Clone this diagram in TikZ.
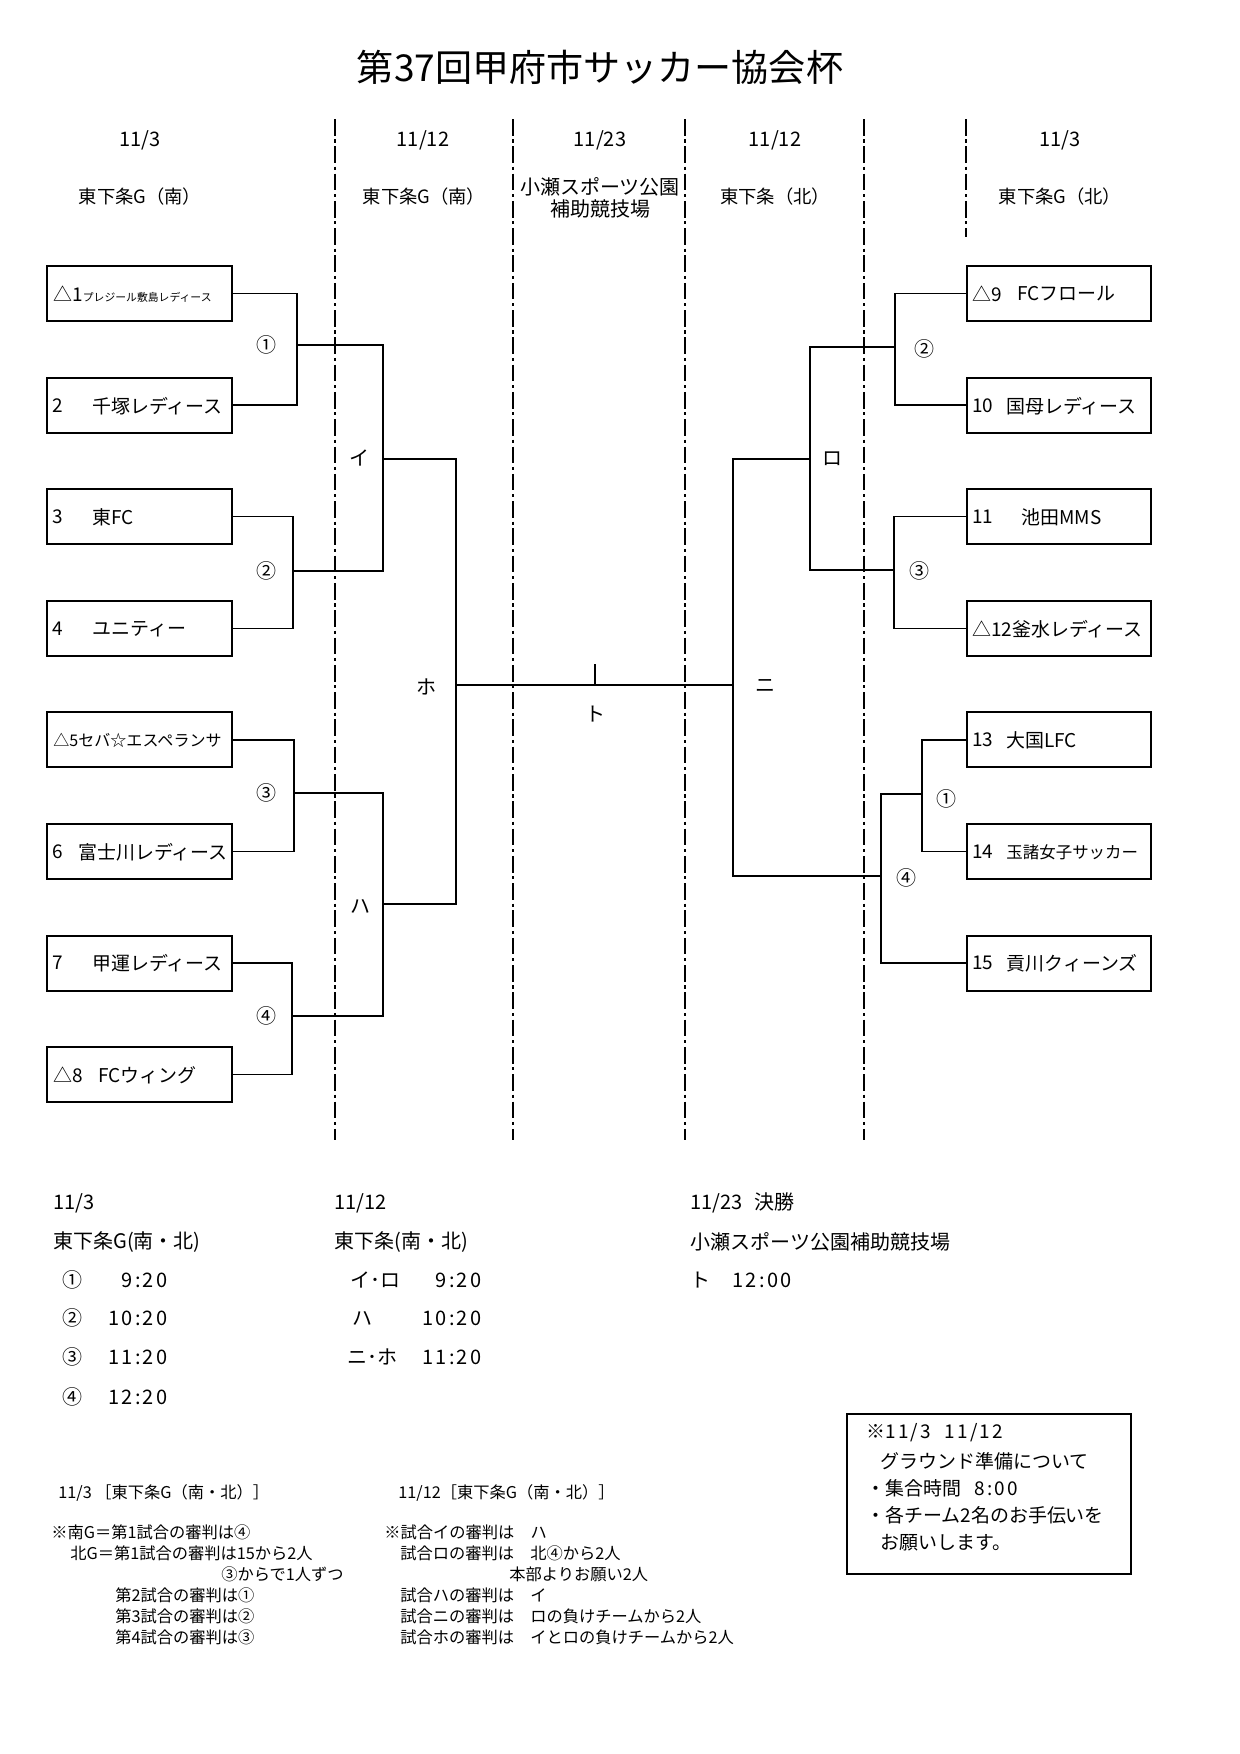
\documentclass[tikz,border=0pt]{standalone}
\usepackage{fontspec}
\setmainfont{Noto Sans CJK JP}
\newcommand\fsz[1]{\fontsize{#1}{#1}\selectfont}
\newcommand\wdig[1]{{\addfontfeature{LetterSpace=12}#1}}
\tikzset{
  teamL/.style={draw, line width=1pt, minimum width=88.8pt, minimum height=26.4pt, inner sep=0pt},
  teamR/.style={draw, line width=1pt, minimum width=88.3pt, minimum height=26.4pt, inner sep=0pt},
  conn/.style={line width=0.65pt},
  sepline/.style={line width=0.9pt, dash pattern=on 8pt off 1.8pt on 1.5pt off 1.8pt},
  tx/.style={inner sep=0pt, anchor=west, font=\fsz{9.1pt}},
  mk/.style={inner sep=0pt, font=\fsz{9.6pt}},
  hd/.style={inner sep=0pt, font=\fsz{9.6pt}},
  nt/.style={inner sep=0pt, anchor=west, font=\fsz{7.8pt}},
}
\begin{document}
\begin{tikzpicture}[x=0.48pt, y=-0.48pt]
\useasboundingbox (0,0) rectangle (1240,1754);
\fill[white] (0,0) rectangle (1240,1754);

% title
\node[inner sep=0pt, font=\fsz{17.8pt}] (title) at (600,67) {第37回甲府市サッカー協会杯};

% column separators
\foreach \xx in {335,513,685,864} \draw[sepline] (\xx,119) -- (\xx,1140);
\draw[sepline] (966,119) -- (966,237);

% headers
\node[hd] (d1) at (140,140) {11/3};
\node[hd] (d2) at (423,140) {11/12};
\node[hd] (d3) at (600,140) {11/23};
\node[hd] (d4) at (775,140) {11/12};
\node[hd] (d5) at (1060,140) {11/3};
\node[hd, font=\fsz{8.8pt}] (v1) at (140,197) {東下条G（南）};
\node[hd, font=\fsz{8.8pt}] (v2) at (424,197) {東下条G（南）};
\node[hd] (v3a) at (600,187) {小瀬スポーツ公園};
\node[hd] (v3b) at (600,209) {補助競技場};
\node[hd, font=\fsz{8.8pt}] (v4) at (775,197) {東下条（北）};
\node[hd, font=\fsz{8.8pt}] (v5) at (1060,197) {東下条G（北）};

% left team boxes
\node[teamL] (t1) at (139.5,293.5) {};
\node[teamL] (t2) at (139.5,405.1) {};
\node[teamL] (t3) at (139.5,516.7) {};
\node[teamL] (t4) at (139.5,628.3) {};
\node[teamL] (t5) at (139.5,739.9) {};
\node[teamL] (t6) at (139.5,851.5) {};
\node[teamL] (t7) at (139.5,963.1) {};
\node[teamL] (t8) at (139.5,1074.7) {};
% right team boxes
\node[teamR] (t9) at (1059,293.5) {};
\node[teamR] (t10) at (1059,405.1) {};
\node[teamR] (t11) at (1059,516.7) {};
\node[teamR] (t12) at (1059,628.3) {};
\node[teamR] (t13) at (1059,739.9) {};
\node[teamR] (t14) at (1059,851.5) {};
\node[teamR] (t15) at (1059,963.1) {};

% team texts
\node[tx] (n1) at (53,294) {△1{\fsz{5.2pt}プレジール敷島レディース}};
\node[tx] (a2) at (52,406) {2};  \node[tx] (b2) at (92,406) {千塚レディース};
\node[tx] (a3) at (52,517) {3};  \node[tx] (b3) at (92,517) {東FC};
\node[tx] (a4) at (52,629) {4};  \node[tx] (b4) at (92,629) {ユニティー};
\node[tx, font=\fsz{7.7pt}] (n5) at (53,740) {△5セバ☆エスペランサ};
\node[tx] (a6) at (52,852) {6};  \node[tx] (b6) at (78,852) {富士川レディース};
\node[tx] (a7) at (52,963) {7};  \node[tx] (b7) at (92,963) {甲運レディース};
\node[tx] (a8) at (53,1075) {△8}; \node[tx] (b8) at (98,1075) {FCウィング};
\node[tx] (a9) at (972,294) {△9}; \node[tx] (b9) at (1017,294) {FCフロール};
\node[tx] (a10) at (972,406) {10}; \node[tx] (b10) at (1006,406) {国母レディース};
\node[tx] (a11) at (972,517) {11}; \node[tx] (b11) at (1021,517) {池田MMS};
\node[tx] (n12) at (972,629) {△12釜水レディース};
\node[tx] (a13) at (972,740) {13}; \node[tx] (b13) at (1006,740) {大国LFC};
\node[tx] (a14) at (972,852) {14}; \node[tx, font=\fsz{7.9pt}] (b14) at (1006,852) {玉諸女子サッカー};
\node[tx] (a15) at (972,963) {15}; \node[tx] (b15) at (1006,963) {貢川クィーンズ};

% bracket joints
\coordinate (m1) at (297,345);
\coordinate (m2) at (293,571);
\coordinate (m3) at (294,793);
\coordinate (m4) at (292,1016);
\coordinate (mI) at (383,459);
\coordinate (mHa) at (383,904);
\coordinate (mHo) at (456,685);
\coordinate (mNi) at (733,685);
\coordinate (q1) at (895,347);
\coordinate (q2) at (894,570);
\coordinate (q3) at (922,794);
\coordinate (mRo) at (810,459);
\coordinate (mR4) at (881,876);
\coordinate (tk) at (595,664);
\coordinate (tb) at (595,685);

% left brackets
\draw[conn] (t1.east) -| (m1) |- (t2.east);
\draw[conn] (t3.east) -| (m2) |- (t4.east);
\draw[conn] (t5.east) -| (m3) |- (t6.east);
\draw[conn] (t7.east) -| (m4) |- (t8.east);
\draw[conn] (m1) -| (mI) |- (m2);
\draw[conn] (m3) -| (mHa) |- (m4);
\draw[conn] (mI) -| (mHo) |- (mHa);
\draw[conn] (mHo) -- (mNi);
\draw[conn] (tb) -- (tk);
% right brackets
\draw[conn] (t9.west) -| (q1) |- (t10.west);
\draw[conn] (t11.west) -| (q2) |- (t12.west);
\draw[conn] (t13.west) -| (q3) |- (t14.west);
\draw[conn] (q3) -| (mR4) |- (t15.west);
\draw[conn] (q1) -| (mRo) |- (q2);
\draw[conn] (mRo) -| (mNi) |- (mR4);

% match labels
\node[mk] (c1) at (266,345) {①};
\node[mk] (c2) at (266,571) {②};
\node[mk] (c3) at (266,793) {③};
\node[mk] (c4) at (266,1016) {④};
\node[mk] (kI) at (359,458) {イ};
\node[mk] (kHa) at (360,906) {ハ};
\node[mk] (kHo) at (426,687) {ホ};
\node[mk] (kTo) at (595,714) {ト};
\node[mk] (kNi) at (765,686) {ニ};
\node[mk] (kRo) at (832,459) {ロ};
\node[mk] (c2r) at (924,349) {②};
\node[mk] (c3r) at (919,571) {③};
\node[mk] (c1r) at (946,799) {①};
\node[mk] (c4r) at (906,878) {④};

% schedule
\begin{scope}[every node/.style={inner sep=0pt, anchor=west, font=\fsz{9.6pt}}]
\node (s11) at (53,1203) {11/3};
\node (s12) at (53,1242) {東下条G(南・北)};
\node (s13) at (62,1280) {①};  \node[anchor=east] (s13t) at (168,1280) {\wdig{9:20}};
\node (s14) at (62,1318) {②};  \node[anchor=east] (s14t) at (168,1318) {\wdig{10:20}};
\node (s15) at (62,1357) {③};  \node[anchor=east] (s15t) at (168,1357) {\wdig{11:20}};
\node (s16) at (62,1397) {④};  \node[anchor=east] (s16t) at (168,1397) {\wdig{12:20}};
\node (s21) at (334,1203) {11/12};
\node (s22) at (334,1242) {東下条(南・北)};
\node (s23) at (350,1280) {イ･ロ}; \node[anchor=east] (s23t) at (482,1280) {\wdig{9:20}};
\node (s24) at (352,1318) {ハ};    \node[anchor=east] (s24t) at (482,1318) {\wdig{10:20}};
\node (s25) at (347,1357) {ニ･ホ}; \node[anchor=east] (s25t) at (482,1357) {\wdig{11:20}};
\node (s31) at (690,1203) {11/23\hspace{0.6em}決勝};
\node (s32) at (690,1242) {小瀬スポーツ公園補助競技場};
\node (s33) at (690,1280) {ト};
\node (s33t) at (732,1280) {\wdig{12:00}};
\end{scope}

% note box
\node[draw, line width=0.8pt, minimum width=136.3pt, minimum height=76.8pt, inner sep=0pt] (nb) at (989,1494) {};
\begin{scope}[every node/.style={inner sep=0pt, anchor=west, font=\fsz{9.1pt}}]
\node (nb1) at (866,1433) {※\wdig{11/3}\hspace{0.7em}\wdig{11/12}};
\node (nb2) at (880,1461) {グラウンド準備について};
\node (nb3) at (866,1488) {・集合時間\hspace{0.7em}\wdig{8:00}};
\node (nb4) at (866,1515) {・各チーム2名のお手伝いを};
\node (nb5) at (880,1543) {お願いします。};
\end{scope}

% referee notes
\node[nt] (h1) at (58,1493) {11/3 ［東下条G（南・北）］};
\node[nt] (h2) at (398,1493) {11/12［東下条G（南・北）］};
\node[nt] (r1) at (51,1532) {※南G＝第1試合の審判は④};
\node[nt] (r2) at (70,1553) {北G＝第1試合の審判は15から2人};
\node[nt] (r3) at (221,1574) {③からで1人ずつ};
\node[nt] (r4) at (115,1595) {第2試合の審判は①};
\node[nt] (r5) at (115,1616) {第3試合の審判は②};
\node[nt] (r6) at (115,1637) {第4試合の審判は③};
\node[nt] (k1) at (384,1532) {※試合イの審判は　ハ};
\node[nt] (k2) at (400,1553) {試合ロの審判は　北④から2人};
\node[nt] (k3) at (509,1574) {本部よりお願い2人};
\node[nt] (k4) at (400,1595) {試合ハの審判は　イ};
\node[nt] (k5) at (400,1616) {試合ニの審判は　ロの負けチームから2人};
\node[nt] (k6) at (400,1637) {試合ホの審判は　イとロの負けチームから2人};
\end{tikzpicture}
\end{document}
